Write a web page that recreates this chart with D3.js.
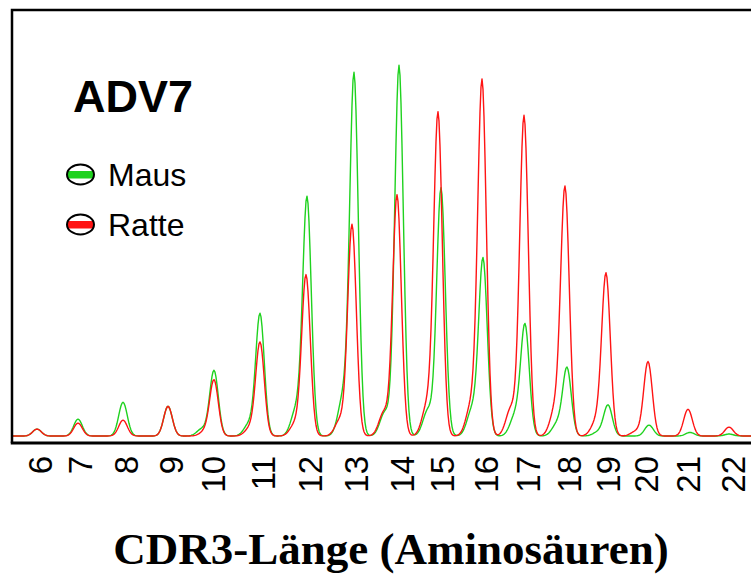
<!DOCTYPE html>
<html>
<head>
<meta charset="utf-8">
<script src="https://cdn.jsdelivr.net/npm/d3@7"></script>
<style>
  html, body { margin: 0; padding: 0; background: #fff; }
  svg { display: block; }
</style>
</head>
<body>
<svg id="chart" width="751" height="576"></svg>
<script>
// ---- Data ----
const lengths   = [6, 7, 8, 9, 10, 11, 12, 13, 14, 15, 16, 17, 18, 19, 20, 21, 22];
// size-calibration: migration position (scan units) of each CDR3 length label
const tickPos   = [28, 68, 114, 159, 201, 251, 298, 344, 390, 430, 474, 516, 557, 596, 634, 676, 721];

// main peak positions (scan units) and heights (relative fluorescence)
const mausPos     = [25, 66, 111, 156, 202, 248, 295, 342, 387, 429, 471, 513, 555, 596, 637, 678, 717];
const mausHeight  = [1.75, 4.25, 8.5, 7.5, 16.5, 30.75, 60, 91, 93.5, 62.5, 44.5, 27.75, 17, 7.75, 2.75, 0.9, 0.5];
const rattePos    = [25, 66, 111, 156, 202, 248, 294, 340, 385, 426, 470, 512, 553, 594, 636, 676, 717];
const ratteHeight = [1.75, 3.25, 4, 7.5, 14, 23.5, 40.5, 53.25, 60.75, 81.25, 89.5, 80.75, 62.25, 40.75, 18.75, 6.75, 2.25];

// minor (shoulder) peaks: positions and heights
const mausShoulderPos     = [190, 237, 284, 331, 373, 416, 460, 503, 545, 586];
const mausShoulderHeight  = [1.8, 3, 6.5, 9.5, 6, 6.5, 6.5, 5, 3, 1];
const ratteShoulderPos    = [193, 238, 283, 328, 372, 415, 459, 499, 543, 584, 624];
const ratteShoulderHeight = [1.2, 2, 3, 4, 6, 7.5, 7.5, 7, 6.5, 3.5, 1.2];

const seriesNames  = ["Maus", "Ratte"];
const seriesColors = ["#1fd21f", "#ff1414"];
const titleText = "ADV7";
const xTitle = "CDR3-Länge (Aminosäuren)";

// ---- Layout ----
const svg = d3.select("#chart");
const frameLeft = 12, frameTop = 10, frameBottom = 443, baseY = 436;

const x = d3.scaleLinear().domain([0, 740]).range([frameLeft, frameLeft + 740]);
const y = d3.scaleLinear().domain([0, 100]).range([baseY, baseY - 396]);

// peak rendering (electropherogram trace shape)
const sigmaMain = 4.3, sigmaShoulder = 5;
function trace(pos, h, sPos, sH) {
  const peaks = pos.map((p, i) => [p, h[i], sigmaMain])
    .concat(sPos.map((p, i) => [p, sH[i], sigmaShoulder]));
  const pts = [];
  for (let t = 0; t <= 740; t += 1) {
    let v = 0;
    for (const [p, a, s] of peaks) {
      const z = (t - p) / s;
      v += a * Math.exp(-0.5 * z * z);
    }
    pts.push([t, v]);
  }
  return pts;
}

const line = d3.line().x(d => x(d[0])).y(d => y(d[1])).curve(d3.curveLinear);

const traces = [
  trace(mausPos, mausHeight, mausShoulderPos, mausShoulderHeight),
  trace(rattePos, ratteHeight, ratteShoulderPos, ratteShoulderHeight)
];

svg.selectAll("path.trace")
  .data(traces)
  .join("path")
  .attr("class", "trace")
  .attr("fill", "none")
  .attr("stroke", (d, i) => seriesColors[i])
  .attr("stroke-width", 1.4)
  .attr("stroke-linejoin", "round")
  .attr("d", line);

// frame (top, left, bottom)
svg.append("path")
  .attr("d", `M${frameLeft},${frameBottom} L${frameLeft},${frameTop} L760,${frameTop}`)
  .attr("fill", "none").attr("stroke", "#000").attr("stroke-width", 2.5);
svg.append("line")
  .attr("x1", frameLeft - 1.25).attr("x2", 760)
  .attr("y1", frameBottom).attr("y2", frameBottom)
  .attr("stroke", "#000").attr("stroke-width", 3);

// x axis labels
const axis = d3.axisBottom(x)
  .tickValues(tickPos)
  .tickFormat((d, i) => lengths[i])
  .tickSize(0);
const gAxis = svg.append("g").attr("transform", `translate(0,${frameBottom})`).call(axis);
gAxis.select(".domain").remove();
gAxis.selectAll("text")
  .attr("transform", "rotate(-90)")
  .attr("text-anchor", "end")
  .attr("x", -13)
  .attr("y", 0)
  .attr("dy", "0.35em")
  .attr("fill", "#000")
  .style("font-family", "'Liberation Sans', Arial, Helvetica, sans-serif")
  .style("font-size", "33px");

// title
svg.append("text")
  .attr("x", 73).attr("y", 112)
  .style("font-family", "'Liberation Sans', Arial, Helvetica, sans-serif")
  .style("font-weight", "bold")
  .style("font-size", "45px")
  .text(titleText);

// legend
const legendY = [174.5, 224.5];
const defs = svg.append("defs");
const lg = svg.selectAll("g.legend")
  .data(seriesNames)
  .join("g")
  .attr("class", "legend")
  .attr("transform", (d, i) => `translate(80.5,${legendY[i]})`);

lg.each(function(d, i) {
  defs.append("clipPath").attr("id", "clip" + i)
    .append("ellipse").attr("cx", 0).attr("cy", 0).attr("rx", 13.5).attr("ry", 10);
});
lg.append("rect")
  .attr("x", -14).attr("y", -3.5).attr("width", 28).attr("height", 7.5)
  .attr("fill", (d, i) => seriesColors[i])
  .attr("clip-path", (d, i) => `url(#clip${i})`);
lg.append("ellipse")
  .attr("rx", 13.5).attr("ry", 10)
  .attr("fill", "none").attr("stroke", "#000").attr("stroke-width", 2);
lg.append("text")
  .attr("x", 27.5).attr("y", 11)
  .style("font-family", "'Liberation Sans', Arial, Helvetica, sans-serif")
  .style("font-size", "32px")
  .text(d => d);

// x axis title
svg.append("text")
  .attr("x", 391).attr("y", 564)
  .attr("text-anchor", "middle")
  .style("font-family", "'Liberation Serif', 'Times New Roman', serif")
  .style("font-weight", "bold")
  .style("font-size", "45px")
  .text(xTitle);
</script>
</body>
</html>
